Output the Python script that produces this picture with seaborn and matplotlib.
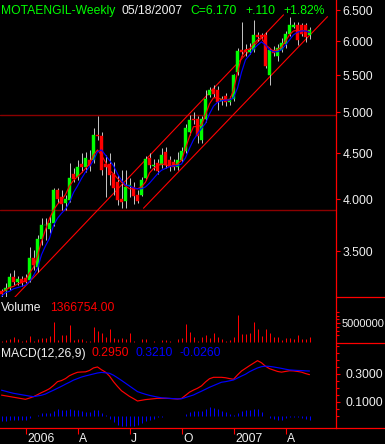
import matplotlib
matplotlib.use("Agg")
import matplotlib.pyplot as plt
import numpy as np
import pandas as pd
import seaborn as sns
from matplotlib.lines import Line2D
from matplotlib.ticker import FixedLocator, NullFormatter
from matplotlib.transforms import ScaledTranslation

W, H, DPI = 385, 444, 100

# weekly bars, last one is the week of 05/18/2007
dates = pd.date_range(end="2007-05-18", periods=78, freq="W-FRI")

opens = [3.16, 3.16, 3.19, 3.28, 3.24, 3.26, 3.27, 3.25, 3.44, 3.36,
         3.61, 3.75, 3.71, 3.76, 4.10, 4.02, 3.96, 3.99, 4.27, 4.24,
         4.38, 4.35, 4.43, 4.43, 4.72, 4.70, 4.38, 4.38, 4.27, 4.18,
         4.00, 3.98, 4.14, 4.13, 4.05, 4.04, 4.22, 4.45, 4.36, 4.39,
         4.37, 4.52, 4.43, 4.40, 4.35, 4.43, 4.53, 4.76, 4.92, 4.92,
         4.66, 4.92, 5.23, 5.31, 5.29, 5.15, 5.22, 5.14, 5.18, 5.55,
         5.87, 5.87, 5.84, 5.87, 6.10, 6.10, 6.10, 5.50, 5.87, 5.78,
         5.87, 5.96, 6.11, 6.23, 6.26, 6.25, 6.26, 6.10]
highs = [3.18, 3.23, 3.31, 3.34, 3.29, 3.29, 3.30, 3.54, 3.51, 3.65,
         3.81, 3.81, 3.83, 4.12, 4.12, 4.10, 4.04, 4.39, 4.33, 4.42,
         4.50, 4.52, 4.54, 4.80, 4.95, 4.75, 4.48, 4.50, 4.40, 4.26,
         4.31, 4.31, 4.22, 4.18, 4.10, 4.24, 4.47, 4.50, 4.44, 4.44,
         4.56, 4.57, 4.47, 4.44, 4.52, 4.57, 4.85, 4.97, 5.00, 4.95,
         4.95, 5.29, 5.33, 5.36, 5.35, 5.22, 5.25, 5.22, 5.52, 5.90,
         6.30, 5.95, 5.97, 6.34, 6.14, 6.13, 6.14, 5.90, 5.92, 5.95,
         6.05, 6.16, 6.38, 6.30, 6.30, 6.28, 6.28, 6.22]
lows = [3.11, 3.11, 3.17, 3.21, 3.21, 3.20, 3.23, 3.24, 3.34, 3.32,
        3.56, 3.60, 3.67, 3.74, 3.96, 3.89, 3.89, 3.97, 4.18, 4.20,
        4.29, 4.29, 4.30, 4.39, 4.66, 4.26, 4.02, 4.15, 4.05, 3.94,
        3.91, 3.91, 4.02, 3.95, 3.96, 4.03, 4.20, 4.33, 4.31, 4.27,
        4.33, 4.33, 4.30, 4.31, 4.31, 4.40, 4.50, 4.72, 4.85, 4.62,
        4.62, 4.88, 5.20, 5.20, 5.03, 5.10, 5.08, 5.10, 5.15, 5.50,
        5.78, 5.78, 5.80, 5.84, 6.00, 6.02, 5.60, 5.36, 5.78, 5.70,
        5.84, 5.90, 6.08, 6.20, 5.94, 6.08, 5.99, 6.03]
closes = [3.14, 3.19, 3.28, 3.24, 3.26, 3.23, 3.24, 3.44, 3.38, 3.61,
          3.75, 3.75, 3.76, 4.10, 4.00, 3.95, 4.00, 4.23, 4.21, 4.35,
          4.35, 4.45, 4.36, 4.72, 4.70, 4.31, 4.35, 4.26, 4.12, 3.99,
          3.97, 4.13, 4.15, 4.03, 3.98, 4.20, 4.44, 4.37, 4.37, 4.30,
          4.48, 4.37, 4.35, 4.35, 4.43, 4.53, 4.80, 4.90, 4.90, 4.70,
          4.92, 5.17, 5.29, 5.24, 5.14, 5.18, 5.13, 5.18, 5.50, 5.85,
          5.83, 5.83, 5.87, 6.10, 6.06, 6.07, 5.63, 5.87, 5.82, 5.90,
          5.98, 6.11, 6.25, 6.26, 6.02, 6.12, 6.06, 6.17]
volume = [440000, 610000, 880000, 1320000, 880000, 440000, 610000, 1670000, 440000, 790000,
          1230000, 1050000, 1670000, 5350000, 610000, 1930000, 1930000, 4560000, 610000, 790000,
          790000, 440000, 350000, 3950000, 3070000, 2370000, 1490000, 3420000, 1050000, 790000,
          1230000, 790000, 2540000, 440000, 90000, 790000, 790000, 90000, 260000, 0,
          610000, 610000, 440000, 0, 790000, 1050000, 4820000, 2630000, 1490000, 350000,
          1320000, 1930000, 1050000, 2370000, 1490000, 790000, 440000, 610000, 1320000, 7190000,
          2190000, 2190000, 2540000, 5350000, 3420000, 1670000, 3420000, 2370000, 1490000, 1320000,
          610000, 1050000, 1050000, 790000, 1930000, 790000, 790000, 1366754]
ma_fast = [3.15, 3.17, 3.19, 3.20, 3.22, 3.23, 3.25, 3.31, 3.36, 3.46,
           3.59, 3.70, 3.81, 3.89, 3.95, 3.99, 4.05, 4.14, 4.20, 4.24,
           4.28, 4.33, 4.38, 4.48, 4.54, 4.48, 4.40, 4.31, 4.27, 4.22,
           4.18, 4.14, 4.11, 4.11, 4.11, 4.13, 4.18, 4.28, 4.33, 4.36,
           4.38, 4.37, 4.36, 4.36, 4.38, 4.42, 4.56, 4.70, 4.82, 4.82,
           4.84, 4.97, 5.11, 5.19, 5.19, 5.17, 5.16, 5.16, 5.29, 5.54,
           5.76, 5.87, 5.88, 5.96, 6.02, 6.06, 5.94, 5.90, 5.84, 5.87,
           5.91, 6.00, 6.10, 6.16, 6.17, 6.16, 6.17, 6.14]
ma_slow = [3.12, 3.15, 3.16, 3.18, 3.19, 3.20, 3.21, 3.24, 3.29, 3.35,
           3.47, 3.55, 3.62, 3.74, 3.81, 3.86, 3.90, 3.97, 4.07, 4.14,
           4.22, 4.29, 4.35, 4.42, 4.52, 4.54, 4.48, 4.42, 4.36, 4.27,
           4.20, 4.15, 4.14, 4.12, 4.11, 4.11, 4.13, 4.17, 4.22, 4.27,
           4.31, 4.33, 4.35, 4.36, 4.36, 4.38, 4.45, 4.56, 4.66, 4.73,
           4.80, 4.86, 4.98, 5.08, 5.13, 5.15, 5.16, 5.16, 5.19, 5.32,
           5.54, 5.72, 5.79, 5.88, 5.94, 5.99, 5.94, 5.87, 5.84, 5.84,
           5.87, 5.94, 6.02, 6.10, 6.14, 6.16, 6.16, 6.14]
macd_line = [0.149, 0.144, 0.139, 0.134, 0.129, 0.124, 0.119, 0.128, 0.138, 0.152,
             0.167, 0.180, 0.195, 0.218, 0.245, 0.253, 0.267, 0.288, 0.301, 0.312,
             0.314, 0.315, 0.325, 0.343, 0.350, 0.330, 0.313, 0.285, 0.245, 0.211,
             0.180, 0.160, 0.140, 0.124, 0.107, 0.112, 0.117, 0.120, 0.123, 0.126,
             0.126, 0.126, 0.125, 0.123, 0.121, 0.125, 0.147, 0.170, 0.185, 0.198,
             0.215, 0.243, 0.266, 0.276, 0.276, 0.276, 0.273, 0.267, 0.262, 0.293,
             0.321, 0.340, 0.359, 0.377, 0.395, 0.380, 0.355, 0.338, 0.328, 0.318,
             0.313, 0.318, 0.323, 0.322, 0.318, 0.313, 0.303, 0.295]
signal_line = [0.184, 0.177, 0.169, 0.162, 0.157, 0.152, 0.147, 0.142, 0.138, 0.143,
               0.148, 0.157, 0.171, 0.184, 0.198, 0.212, 0.227, 0.241, 0.256, 0.267,
               0.278, 0.286, 0.293, 0.300, 0.307, 0.311, 0.308, 0.305, 0.291, 0.273,
               0.254, 0.234, 0.214, 0.194, 0.174, 0.164, 0.155, 0.147, 0.141, 0.135,
               0.130, 0.128, 0.126, 0.124, 0.122, 0.123, 0.132, 0.141, 0.150, 0.164,
               0.177, 0.191, 0.205, 0.217, 0.229, 0.241, 0.245, 0.251, 0.257, 0.271,
               0.285, 0.298, 0.316, 0.330, 0.343, 0.352, 0.356, 0.354, 0.350, 0.345,
               0.340, 0.334, 0.329, 0.327, 0.325, 0.324, 0.322, 0.321]

# trend channel (bar index, price) and horizontal levels
channel_upper = [(3.25, 3.11), (70.5, 6.42)]
channel_lower = [(35.5, 3.91), (81.5, 6.39)]
levels = [4.96, 3.89]

price_ticks = [3.5, 4.0, 4.5, 5.0, 5.5, 6.0, 6.5]
volume_ticks = [5000000]
macd_ticks = [0.1, 0.3]
month_letters = {4: "A", 7: "J", 10: "O"}

RED = "#ff0000"
DARKRED = "#8b0000"
GREEN = "#00ff00"
BLUE = "#0000ff"
WICK = "#c0c0c0"
TXT = "#f0f0f0"
FS = 8.7
PX = 72 / DPI          # one pixel in points
XLIM = (-0.375, 83.625)  # 4 px per week, bars on pixel centres

sns.set_theme(style="ticks", rc={"figure.facecolor": "black", "axes.facecolor": "black",
                                 "savefig.facecolor": "black"})
plt.rcParams["font.family"] = ["Liberation Sans", "DejaVu Sans"]


def px_axes(fig, left, top, right, bottom):
    return fig.add_axes([left / W, 1 - bottom / H, (right - left) / W, (bottom - top) / H])


def style_axis(ax, pad):
    ax.set_facecolor("black")
    for side in ["top", "left", "bottom"]:
        ax.spines[side].set_visible(False)
    ax.spines["right"].set_color(RED)
    ax.spines["right"].set_linewidth(0.9)
    ax.yaxis.tick_right()
    ax.tick_params(axis="y", which="major", colors=RED, labelcolor=TXT, length=3,
                   width=0.8, labelsize=FS, pad=pad)
    ax.tick_params(axis="y", which="minor", colors=RED, length=2, width=0.8)
    ax.tick_params(axis="x", bottom=False, labelbottom=False)
    ax.set_xlim(*XLIM)
    ax.grid(False)


def fig_line(fig, x0, x1, y):
    fig.add_artist(Line2D([x0 / W, x1 / W], [1 - y / H, 1 - y / H],
                          transform=fig.transFigure, color=RED, lw=0.9))


idx = np.arange(len(dates))
o, h, l, c = (np.array(a) for a in (opens, highs, lows, closes))
hist = np.array(macd_line) - np.array(signal_line)

fig = plt.figure(figsize=(W / DPI, H / DPI), dpi=DPI)
ax_p = px_axes(fig, 0, 0, 336, 297)
ax_v = px_axes(fig, 0, 297, 336, 343)
ax_m = px_axes(fig, 0, 343, 336, 428)

# price panel
ax_p.set_yscale("log")
ax_p.set_ylim(3.114, 6.669)
style_axis(ax_p, pad=1.5)
ax_p.yaxis.set_major_locator(FixedLocator(price_ticks))
ax_p.yaxis.set_minor_locator(FixedLocator([]))
ax_p.yaxis.set_minor_formatter(NullFormatter())
ax_p.set_yticklabels([f"{t:.3f}" for t in price_ticks])

for lev in levels:
    ax_p.axhline(lev, color=DARKRED, lw=1.0, zorder=1)
for (x0, y0), (x1, y1) in [channel_upper, channel_lower]:
    ax_p.plot([x0, x1], [y0, y1], color=RED, lw=0.8, zorder=2)

body_col = np.where(c >= o, GREEN, RED)
ax_p.vlines(idx, l, h, color=WICK, lw=PX, zorder=3)
ax_p.bar(idx, np.abs(c - o), bottom=np.minimum(o, c), width=0.75, color=body_col,
         edgecolor=body_col, linewidth=0.3, zorder=4)
sns.lineplot(x=idx, y=ma_fast, ax=ax_p, color=RED, lw=0.85, zorder=5)
sns.lineplot(x=idx, y=ma_slow, ax=ax_p, color=BLUE, lw=0.85, zorder=5)
ax_p.set(xlabel=None, ylabel=None)

# volume panel
style_axis(ax_v, pad=1.5)
ax_v.vlines(idx, 0, volume, color=RED, lw=PX)
ax_v.set_ylim(-180000, 11900000)
ax_v.yaxis.set_major_locator(FixedLocator(volume_ticks))
ax_v.yaxis.set_minor_locator(FixedLocator([2e6, 3e6, 4e6, 6e6, 7e6, 8e6]))
ax_v.set_yticklabels([str(v) for v in volume_ticks])
ax_v.tick_params(axis="y", which="major", labelsize=8.0, pad=1.0)

# macd panel
style_axis(ax_m, pad=3.5)
ax_m.vlines(idx, 0, hist, color=BLUE, lw=PX)
sns.lineplot(x=idx, y=macd_line, ax=ax_m, color=RED, lw=0.85)
sns.lineplot(x=idx, y=signal_line, ax=ax_m, color=BLUE, lw=0.85)
ax_m.set(xlabel=None, ylabel=None)
ax_m.set_ylim(-0.0857, 0.521)
ax_m.yaxis.set_major_locator(FixedLocator(macd_ticks))
ax_m.yaxis.set_minor_locator(FixedLocator([0.0, 0.05, 0.15, 0.2, 0.25, 0.35, 0.4, 0.45, 0.5]))
ax_m.set_yticklabels([f"{t:.4f}" for t in macd_ticks])

# quarter ticks on the time axis
qpos, qlab = [], []
for i in range(1, len(dates)):
    m = dates[i].month
    if m != dates[i - 1].month and m in (1, 4, 7, 10):
        qpos.append(i)
        qlab.append(str(dates[i].year) if m == 1 else month_letters[m])
ax_m.spines["bottom"].set_visible(True)
ax_m.spines["bottom"].set_color(RED)
ax_m.spines["bottom"].set_linewidth(0.9)
ax_m.set_xticks(qpos)
ax_m.set_xticklabels(qlab)
ax_m.tick_params(axis="x", bottom=True, labelbottom=True, colors=RED, labelcolor=TXT,
                 length=4, width=0.8, labelsize=FS, pad=6.3)
shift = ScaledTranslation(1.5 / DPI, 0, fig.dpi_scale_trans)
for lab in ax_m.get_xticklabels():
    lab.set_horizontalalignment("left")
    lab.set_verticalalignment("baseline")
    lab.set_transform(lab.get_transform() + shift)
ax_m.set_xlim(*XLIM)

# frame pieces in the scale column
fig_line(fig, 336, W, 297)
fig_line(fig, 336, W, 343)
fig_line(fig, 336, W, 428)

# header and panel captions
chg = closes[-1] - closes[-2]
pct = chg / closes[-2] * 100
header = [("MOTAENGIL-Weekly", 1, GREEN), (dates[-1].strftime("%m/%d/%Y"), 122, TXT),
          (f"C={closes[-1]:.3f}", 190, GREEN), (f"{chg:+.3f}".replace("0.", "."), 245, GREEN),
          (f"{pct:+.2f}%", 283, GREEN)]
for s, x, col in header:
    fig.text(x / W, 1 - 14 / H, s, color=col, fontsize=FS, va="baseline", ha="left")

fig.text(1 / W, 1 - 310.5 / H, "Volume", color=TXT, fontsize=FS, va="baseline")
fig.text(50 / W, 1 - 310.5 / H, f"{volume[-1]:.2f}", color=RED, fontsize=FS, va="baseline")

macd_caption = [("MACD(12,26,9)", 1, TXT), (f"{macd_line[-1]:.4f}", 91, RED),
                (f"{signal_line[-1]:.4f}", 135, BLUE), (f"{hist[-1]:.4f}", 180, BLUE)]
for s, x, col in macd_caption:
    fig.text(x / W, 1 - 356.5 / H, s, color=col, fontsize=FS, va="baseline")

fig.savefig("out.png", dpi=DPI, facecolor="black")
